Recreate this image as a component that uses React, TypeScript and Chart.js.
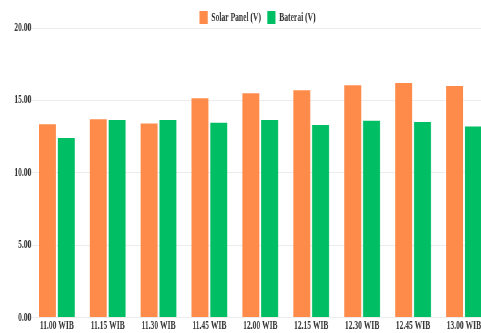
import React, { useEffect, useRef } from 'react';
import { Chart, registerables } from 'chart.js';

Chart.register(...registerables);

const categories = [
  '11.00 WIB', '11.15 WIB', '11.30 WIB', '11.45 WIB', '12.00 WIB',
  '12.15 WIB', '12.30 WIB', '12.45 WIB', '13.00 WIB',
];
const solarPanel = [13.35, 13.7, 13.4, 15.15, 15.5, 15.7, 16.05, 16.2, 16.0];
const baterai = [12.4, 13.65, 13.65, 13.45, 13.65, 13.3, 13.6, 13.5, 13.2];
const seriesLabels = ['Solar Panel (V)', 'Baterai (V)'];
const yMin = 0;
const yMax = 20;
const yStep = 5;

const ORANGE = '#FF8B4B';
const GREEN = '#00BE64';
const TEXT = '#333333';
const SX = 0.63;
const CW = 764;
const CH = 326;

const legendShift = {
  id: 'legendShift',
  afterLayout(chart: any) {
    if (chart.legend) {
      chart.legend.left += 9;
      chart.legend.right += 9;
    }
  },
};

export default function App() {
  const ref = useRef<HTMLCanvasElement>(null);
  useEffect(() => {
    const font = { family: '"Liberation Serif", "Times New Roman", serif', size: 12, weight: 'bold' as const };
    const chart = new Chart(ref.current!, {
      type: 'bar',
      data: {
        labels: categories,
        datasets: [
          { label: seriesLabels[0], data: solarPanel, backgroundColor: ORANGE, categoryPercentage: 0.74, barPercentage: 0.9 },
          { label: seriesLabels[1], data: baterai, backgroundColor: GREEN, categoryPercentage: 0.74, barPercentage: 0.9 },
        ],
      },
      options: {
        responsive: false,
        animation: false,
        devicePixelRatio: 1,
        layout: { padding: { top: -7, left: 10, right: 0, bottom: 0 } },
        plugins: {
          legend: {
            position: 'top',
            maxHeight: 27,
            labels: { boxWidth: 13, boxHeight: 13, padding: 10, color: TEXT, font },
          },
          tooltip: { enabled: false },
        },
        scales: {
          x: {
            grid: { display: false, drawTicks: false },
            border: { display: false },
            ticks: { padding: 1, font, color: TEXT, maxRotation: 0, autoSkip: false },
          },
          y: {
            min: yMin,
            max: yMax,
            ticks: {
              stepSize: yStep,
              padding: 0,
              font,
              color: TEXT,
              callback: (v: any) => Number(v).toFixed(2),
            },
            grid: { color: '#ececec', drawTicks: false },
            border: { display: false },
          },
        },
      },
      plugins: [legendShift],
    });
    return () => chart.destroy();
  }, []);
  return (
    <div style={{ position: 'fixed', left: 8, top: 8, width: 473, height: 325, overflow: 'hidden' }}>
      <div style={{ width: CW, height: CH, transform: `scaleX(${SX})`, transformOrigin: '0 0' }}>
        <canvas ref={ref} width={CW} height={CH} style={{ display: 'block' }} />
      </div>
    </div>
  );
}
